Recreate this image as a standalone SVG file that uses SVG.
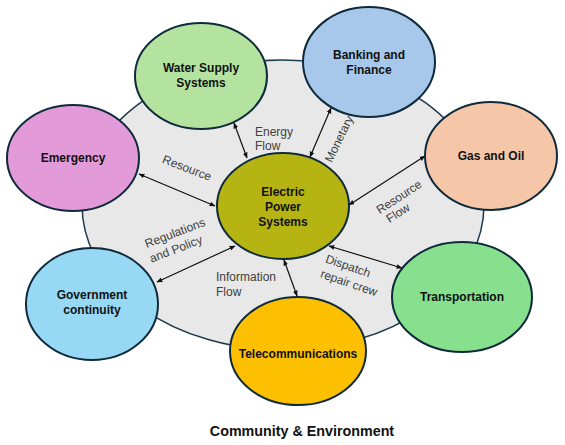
<svg xmlns="http://www.w3.org/2000/svg" width="565" height="445" viewBox="0 0 565 445">
<defs>
<marker id="ah" viewBox="0 0 10 10" refX="9" refY="5" markerWidth="6" markerHeight="6" orient="auto-start-reverse" markerUnits="userSpaceOnUse">
<path d="M0,1 L10,5 L0,9 Z" fill="#111"/>
</marker>
<style>
.node{stroke:#0f2a3a;stroke-width:2}
.lbl{font-family:"Liberation Sans",Arial,sans-serif;font-weight:bold;font-size:12px;fill:#111;text-anchor:middle}
.el{font-family:"Liberation Sans",Arial,sans-serif;font-size:12px;fill:#404040}
.elm{text-anchor:middle}
.conn{stroke:#111;stroke-width:1.2;fill:none;marker-start:url(#ah);marker-end:url(#ah)}
</style>
</defs>
<rect width="565" height="445" fill="#ffffff"/>
<g id="community">
<ellipse cx="283" cy="205" rx="201" ry="145" fill="#e8e8e8" stroke="#1f3b4d" stroke-width="1.5"/>
<text x="302" y="436" class="lbl" style="font-size:14.3px">Community &amp; Environment</text>
</g>
<g id="connectors">
<line class="conn" x1="234" y1="123" x2="247" y2="158"/>
<line class="conn" x1="331" y1="108" x2="310" y2="157"/>
<line class="conn" x1="139" y1="174" x2="215" y2="206"/>
<line class="conn" x1="425" y1="156" x2="349" y2="205"/>
<line class="conn" x1="157" y1="282" x2="235" y2="246"/>
<line class="conn" x1="329" y1="246" x2="402" y2="268"/>
<line class="conn" x1="284" y1="260" x2="297" y2="296"/>
</g>
<g id="edge-labels">
<text class="el" x="255" y="136">Energy</text>
<text class="el" x="255" y="150">Flow</text>
<text class="el elm" transform="translate(339,139) rotate(-64)" x="0" y="4">Monetary</text>
<text class="el elm" transform="translate(187,168) rotate(21)" x="0" y="4">Resource</text>
<text class="el elm" transform="translate(175,233) rotate(-21)" x="0" y="4">Regulations</text>
<text class="el elm" transform="translate(176,249) rotate(-21)" x="0" y="4">and Policy</text>
<text class="el" x="216" y="281">Information</text>
<text class="el" x="216" y="296">Flow</text>
<text class="el elm" transform="translate(348,266) rotate(19)" x="0" y="4">Dispatch</text>
<text class="el elm" transform="translate(349,283) rotate(19)" x="0" y="4">repair crew</text>
<text class="el elm" transform="translate(399,197) rotate(-33)" x="0" y="4">Resource</text>
<text class="el elm" transform="translate(398,213) rotate(-33)" x="0" y="4">Flow</text>
</g>
<g id="electric">
<ellipse class="node" cx="283" cy="206" rx="66" ry="53" fill="#b6b412"/>
<text class="lbl" x="283" y="196">Electric</text>
<text class="lbl" x="283" y="211">Power</text>
<text class="lbl" x="283" y="226">Systems</text>
</g>
<g id="water">
<ellipse class="node" cx="201" cy="76" rx="66" ry="53" fill="#b4e3a0"/>
<text class="lbl" x="201" y="72">Water Supply</text>
<text class="lbl" x="201" y="87">Systems</text>
</g>
<g id="banking">
<ellipse class="node" cx="369" cy="62" rx="66" ry="55" fill="#a7c8ea"/>
<text class="lbl" x="369" y="59">Banking and</text>
<text class="lbl" x="369" y="74">Finance</text>
</g>
<g id="emergency">
<ellipse class="node" cx="73" cy="158" rx="66" ry="53" fill="#e39ad9"/>
<text class="lbl" x="73" y="162">Emergency</text>
</g>
<g id="gas">
<ellipse class="node" cx="491" cy="156" rx="66" ry="54" fill="#f6c6a9"/>
<text class="lbl" x="491" y="160">Gas and Oil</text>
</g>
<g id="government">
<ellipse class="node" cx="92" cy="304" rx="66" ry="56" fill="#97d9f5"/>
<text class="lbl" x="92" y="299">Government</text>
<text class="lbl" x="92" y="314">continuity</text>
</g>
<g id="transportation">
<ellipse class="node" cx="462" cy="297" rx="70" ry="55" fill="#86e08e"/>
<text class="lbl" x="462" y="301">Transportation</text>
</g>
<g id="telecom">
<ellipse class="node" cx="298" cy="351" rx="68" ry="54" fill="#fcc000"/>
<text class="lbl" x="298" y="358">Telecommunications</text>
</g>
</svg>
